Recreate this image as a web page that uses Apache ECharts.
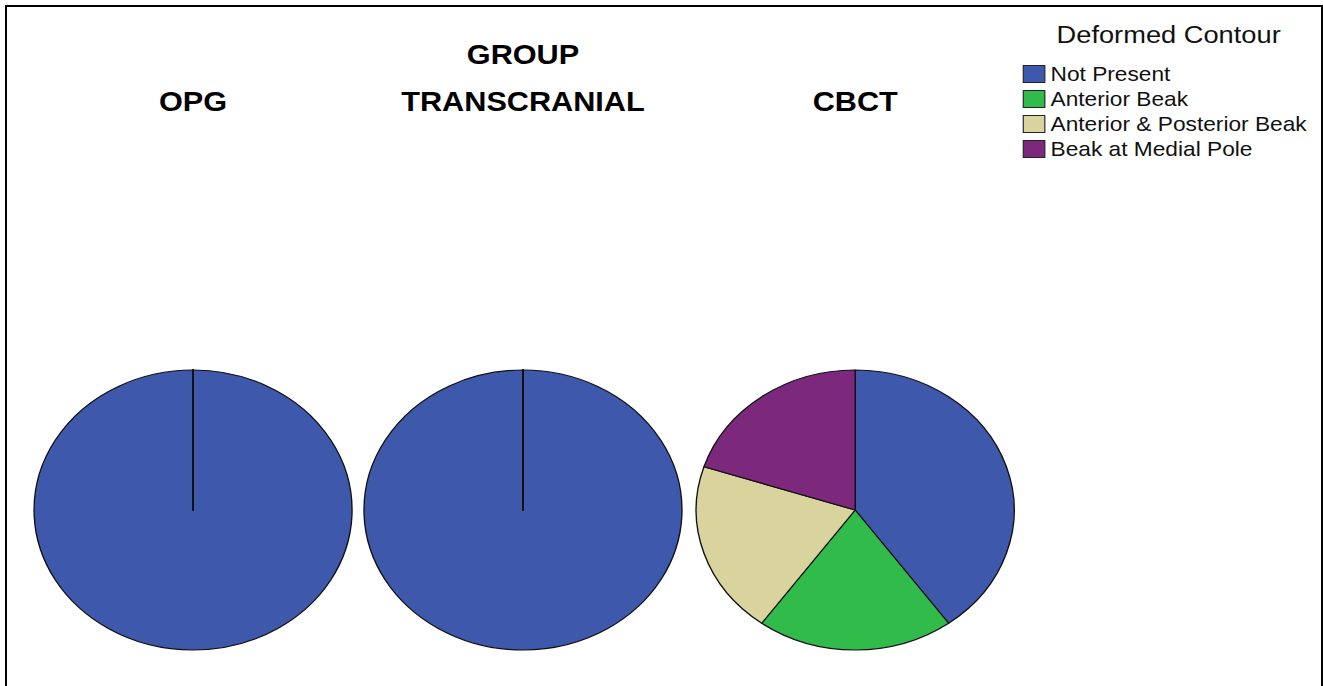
<!DOCTYPE html>
<html>
<head>
<meta charset="utf-8">
<script src="https://cdn.jsdelivr.net/npm/echarts@6/dist/echarts.min.js"></script>
<style>
html,body{margin:0;padding:0;width:1323px;height:686px;overflow:hidden;background:#fff;}
#frame{position:absolute;left:5px;top:5px;width:1318px;height:700px;border:2px solid #000;box-sizing:border-box;}
#c{position:absolute;left:0;top:0;width:1165px;height:686px;transform:scaleX(1.1357);transform-origin:0 0;}
</style>
</head>
<body>
<div id="frame"></div>
<div id="c"></div>
<script>
// ---- data ----
const groupTitle = 'GROUP';
const groups = ['OPG', 'TRANSCRANIAL', 'CBCT'];
const categories = ['Not Present', 'Anterior Beak', 'Anterior & Posterior Beak', 'Beak at Medial Pole'];
const opgValues = [100, 0, 0, 0];
const transcranialValues = [100, 0, 0, 0];
const cbctValues = [40, 20, 20, 20];
const legendTitle = 'Deformed Contour';

// ---- styling ----
const colors = ['#3e58ac', '#30bb4a', '#d9d49e', '#7c287d'];
const centersX = [170, 460.5, 753];
const centerY = 510;
const radius = 140;
const groupValues = [opgValues, transcranialValues, cbctValues];

const chart = echarts.init(document.getElementById('c'), null, {renderer: 'svg', width: 1165, height: 686});

const boldTitle = {fontFamily: 'Liberation Sans', fontWeight: 'bold', fontSize: 27, color: '#000'};
const titles = [
  {text: groupTitle, left: centersX[1], top: 41, textAlign: 'center', padding: 0, textStyle: boldTitle},
  {text: legendTitle, left: 1029, top: 23, textAlign: 'center', padding: 0,
   textStyle: {fontFamily: 'Liberation Sans', fontWeight: 'normal', fontSize: 24, color: '#111'}}
];
groups.forEach((g, i) => {
  titles.push({text: g, left: centersX[i], top: 88, textAlign: 'center', padding: 0, textStyle: boldTitle});
});

const series = groups.map((g, i) => ({
  type: 'pie',
  name: g,
  center: [centersX[i], centerY],
  radius: radius,
  startAngle: 90,
  clockwise: true,
  avoidLabelOverlap: false,
  label: {show: false},
  labelLine: {show: false},
  emphasis: {disabled: true},
  itemStyle: {borderColor: '#111', borderWidth: 1.2},
  data: categories.map((c, k) => {
    const item = {name: c, value: groupValues[i][k]};
    if (groupValues[i][k] === 0) item.itemStyle = {borderWidth: 1.6};
    return item;
  })
}));

chart.setOption({
  animation: false,
  color: colors,
  title: titles,
  legend: {
    orient: 'vertical',
    left: 900.5,
    top: 64,
    padding: 0,
    icon: 'rect',
    itemWidth: 19,
    itemHeight: 17,
    itemGap: 5,
    selectedMode: false,
    data: categories,
    itemStyle: {borderColor: '#222', borderWidth: 1},
    textStyle: {fontFamily: 'Liberation Sans', fontSize: 20, color: '#111', padding: [0, 0, 0, 0]}
  },
  series: series
});
</script>
</body>
</html>
